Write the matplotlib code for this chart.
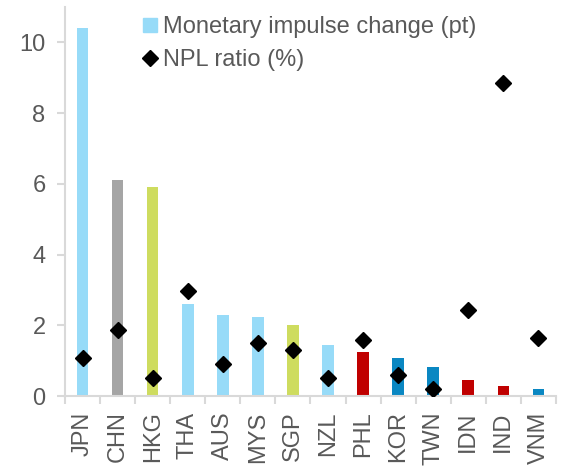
import matplotlib.pyplot as plt
import numpy as np
from matplotlib.lines import Line2D

plt.rcParams['font.family'] = ['Liberation Sans', 'DejaVu Sans']

countries = ['JPN', 'CHN', 'HKG', 'THA', 'AUS', 'MYS', 'SGP', 'NZL',
             'PHL', 'KOR', 'TWN', 'IDN', 'IND', 'VNM']
impulse = [10.4, 6.12, 5.92, 2.6, 2.3, 2.24, 2.01, 1.45,
           1.25, 1.08, 0.82, 0.45, 0.28, 0.2]
npl = [1.09, 1.86, 0.5, 2.97, 0.9, 1.51, 1.29, 0.5,
       1.6, 0.6, 0.19, 2.44, 8.84, 1.63]

light_blue = '#97dbf8'
grey = '#a5a5a5'
lime = '#cedc5f'
red = '#c00000'
blue = '#0a87c2'
bar_colors = [light_blue, grey, lime, light_blue, light_blue, light_blue, lime,
              light_blue, red, blue, blue, red, red, blue]

text_c = '#595959'
axis_c = '#d9d9d9'

fig = plt.figure(figsize=(5.65, 4.66), dpi=100)
ax = fig.add_axes([0.115, 0.150, 0.869, 0.835])

x = np.arange(len(countries))
ax.bar(x, impulse, width=0.33, color=bar_colors, zorder=2)
ax.plot(x, npl, 'D', color='black', markersize=8.5, linestyle='none', zorder=3)

ax.set_xlim(-0.5, len(countries) - 0.5)
ax.set_ylim(0, 11)
ax.set_yticks([0, 2, 4, 6, 8, 10])
ax.set_xticks(x)
ax.set_xticklabels(countries, rotation=90)
ax.set_xticks(np.arange(-0.5, len(countries), 1), minor=True)
ax.tick_params(axis='x', which='major', length=0, pad=11, labelsize=17, labelcolor=text_c)
ax.tick_params(axis='x', which='minor', length=6, color=axis_c, width=1.5)
ax.tick_params(axis='y', length=6, color=axis_c, width=1.5, labelsize=17,
               labelcolor=text_c, pad=8)

for side in ['top', 'right']:
    ax.spines[side].set_visible(False)
for side in ['left', 'bottom']:
    ax.spines[side].set_color(axis_c)
    ax.spines[side].set_linewidth(1.5)

handles = [
    Line2D([], [], marker='s', color=light_blue, linestyle='none', markersize=10),
    Line2D([], [], marker='D', color='black', linestyle='none', markersize=8.5),
]
leg = ax.legend(handles, ['Monetary impulse change (pt)', 'NPL ratio (%)'],
                loc='upper left', bbox_to_anchor=(0.139, 1.0), frameon=False,
                fontsize=17, handlelength=0.6, handletextpad=0.25, labelspacing=0.45,
                borderaxespad=0)
for t in leg.get_texts():
    t.set_color(text_c)

fig.savefig('out.png', dpi=100)
